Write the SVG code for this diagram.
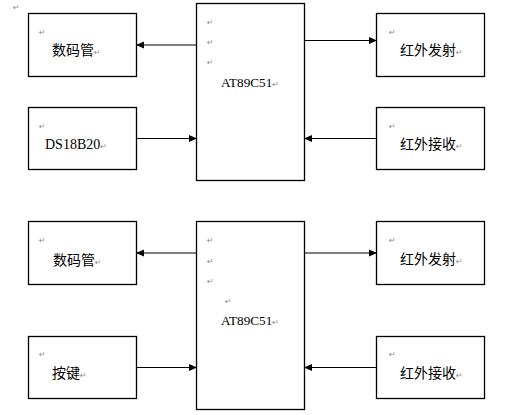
<svg xmlns="http://www.w3.org/2000/svg" width="512" height="415" viewBox="0 0 512 415">
<style>
.box{fill:#fff;stroke:#000;stroke-width:1.3}
.ln{stroke:#000;stroke-width:1.2;fill:none}
.cn{font-family:"Noto Sans CJK SC",sans-serif;font-size:14px;fill:#000}
.en{font-family:"Liberation Serif",serif;font-size:14px;fill:#000}
.rt{font-family:"DejaVu Sans",sans-serif;font-size:8px;fill:#888}
</style>
<defs>
<marker id="ah" markerWidth="8" markerHeight="8" refX="7" refY="4" orient="auto" markerUnits="userSpaceOnUse">
<path d="M0,0.5 L8,4 L0,7.5 Z" fill="#000"/>
</marker>
</defs>
<rect width="512" height="415" fill="#fff"/>
<text class="rt" x="13" y="10">↵</text>
<g id="connectors">
<line class="ln" x1="196" y1="45" x2="137" y2="45" marker-end="url(#ah)"/>
<line class="ln" x1="137" y1="138.5" x2="196" y2="138.5" marker-end="url(#ah)"/>
<line class="ln" x1="305" y1="40.5" x2="376" y2="40.5" marker-end="url(#ah)"/>
<line class="ln" x1="376" y1="138.5" x2="305" y2="138.5" marker-end="url(#ah)"/>
<line class="ln" x1="196" y1="253" x2="137" y2="253" marker-end="url(#ah)"/>
<line class="ln" x1="137" y1="367.5" x2="196" y2="367.5" marker-end="url(#ah)"/>
<line class="ln" x1="305" y1="253" x2="376" y2="253" marker-end="url(#ah)"/>
<line class="ln" x1="376" y1="367.5" x2="305" y2="367.5" marker-end="url(#ah)"/>
</g>
<g id="n1">
<rect class="box" x="28.5" y="13.5" width="108" height="63"/>
<text class="rt" x="39" y="35">↵</text>
<text class="cn" x="52" y="55">数码管<tspan class="rt">↵</tspan></text>
</g>
<g id="n2">
<rect class="box" x="28.5" y="107.5" width="108" height="62"/>
<text class="rt" x="39" y="129">↵</text>
<text class="en" x="45" y="149">DS18B20<tspan class="rt">↵</tspan></text>
</g>
<g id="n3">
<rect class="box" x="196.5" y="3.5" width="108" height="177"/>
<text class="rt" x="207" y="25">↵</text>
<text class="rt" x="207" y="45">↵</text>
<text class="rt" x="207" y="65">↵</text>
<text class="en" x="221" y="86.5" style="font-size:13.2px">AT89C51<tspan class="rt">↵</tspan></text>
</g>
<g id="n4">
<rect class="box" x="376.5" y="13.5" width="108" height="63"/>
<text class="rt" x="389" y="35">↵</text>
<text class="cn" x="400" y="55">红外发射<tspan class="rt">↵</tspan></text>
</g>
<g id="n5">
<rect class="box" x="376.5" y="107.5" width="108" height="62"/>
<text class="rt" x="389" y="129">↵</text>
<text class="cn" x="400" y="149">红外接收<tspan class="rt">↵</tspan></text>
</g>
<g id="n6">
<rect class="box" x="28.5" y="221.5" width="108" height="63"/>
<text class="rt" x="39" y="243">↵</text>
<text class="cn" x="53" y="265">数码管<tspan class="rt">↵</tspan></text>
</g>
<g id="n7">
<rect class="box" x="28.5" y="336.5" width="108" height="62"/>
<text class="rt" x="39" y="357">↵</text>
<text class="cn" x="52" y="378">按键<tspan class="rt">↵</tspan></text>
</g>
<g id="n8">
<rect class="box" x="196.5" y="221.5" width="108" height="188"/>
<text class="rt" x="207" y="243">↵</text>
<text class="rt" x="207" y="264">↵</text>
<text class="rt" x="207" y="284">↵</text>
<text class="rt" x="225" y="304">↵</text>
<text class="en" x="221" y="324.5" style="font-size:13.2px">AT89C51<tspan class="rt">↵</tspan></text>
</g>
<g id="n9">
<rect class="box" x="376.5" y="221.5" width="108" height="63"/>
<text class="rt" x="389" y="243">↵</text>
<text class="cn" x="400" y="264">红外发射<tspan class="rt">↵</tspan></text>
</g>
<g id="n10">
<rect class="box" x="376.5" y="336.5" width="108" height="62"/>
<text class="rt" x="389" y="357">↵</text>
<text class="cn" x="400" y="378">红外接收<tspan class="rt">↵</tspan></text>
</g>
</svg>
